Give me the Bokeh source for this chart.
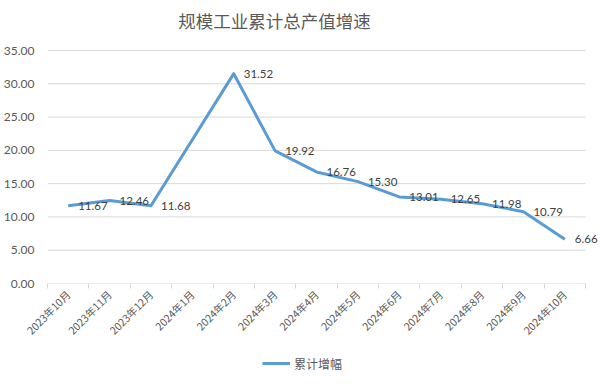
import math
from bokeh.plotting import figure
from bokeh.layouts import column
from bokeh.core.properties import value
from bokeh.models import (Range1d, FixedTicker, Legend, LegendItem, Label, LabelSet,
                          ColumnDataSource, NumeralTickFormatter)
from bokeh.embed import file_html
from bokeh.resources import INLINE

# ---- data ----
chart_title = "规模工业累计总产值增速"
months = ["2023年10月", "2023年11月", "2023年12月", "2024年1月", "2024年2月", "2024年3月",
          "2024年4月", "2024年5月", "2024年6月", "2024年7月", "2024年8月", "2024年9月", "2024年10月"]
growth = [11.67, 12.46, 11.68, None, 31.52, 19.92, 16.76, 15.30, 13.01, 12.65, 11.98, 10.79, 6.66]
series_name = "累计增幅"
y_ticks = [0, 5, 10, 15, 20, 25, 30, 35]

n = len(months)
idx = [i for i, v in enumerate(growth) if v is not None]
src = ColumnDataSource(dict(
    x=idx,
    y=[growth[i] for i in idx],
    lab=["%.2f" % growth[i] for i in idx],
))

LINE_COLOR = "#5b9bd5"

# ---- layout (pixels) ----
W, H = 600, 384
LEG_H = 39
CH = H - LEG_H                      # chart figure height
LEFT, RIGHT_EDGE = 45, 598          # frame spans these x pixels
CAT_RIGHT = 585                     # where the category area / gridlines end
TOP, BOTTOM = 2, 283                # frame top and y=0 line
Y_TOP_TICK_PX = 50                  # pixel y of top tick

x_unit = (CAT_RIGHT - LEFT) / n
x_end = -0.5 + (RIGHT_EDGE - LEFT) / x_unit
y_unit = (BOTTOM - Y_TOP_TICK_PX) / (y_ticks[-1] - y_ticks[0])
y_end = y_ticks[-1] + (Y_TOP_TICK_PX - TOP) / y_unit

p = figure(width=W, height=CH, output_backend="svg", toolbar_location=None,
           x_range=Range1d(-0.5, x_end), y_range=Range1d(y_ticks[0], y_end),
           min_border_left=LEFT, min_border_right=W - RIGHT_EDGE,
           min_border_top=TOP, min_border_bottom=CH - BOTTOM,
           background_fill_color="white", border_fill_color="white")
p.outline_line_color = None
p.xgrid.visible = False
p.ygrid.visible = False

# horizontal gridlines limited to the category area
p.segment(x0=[-0.5] * len(y_ticks), x1=[n - 0.5] * len(y_ticks), y0=y_ticks, y1=y_ticks,
          line_color="#d9d9d9", line_width=1)

# axes
xa = p.xaxis[0]
xa.ticker = FixedTicker(ticks=list(range(n)), minor_ticks=[i - 0.5 for i in range(n + 1)])
xa.major_label_overrides = {i: m for i, m in enumerate(months)}
xa.major_label_orientation = math.pi / 4
xa.major_tick_line_color = None
xa.minor_tick_in = 0
xa.minor_tick_out = 5
xa.minor_tick_line_color = "#d9d9d9"
xa.axis_line_color = None
xa.major_label_standoff = 3
xa.major_label_text_font = "Noto Sans CJK SC"
xa.major_label_text_font_size = "10.5px"
xa.major_label_text_color = "#595959"

ya = p.yaxis[0]
ya.ticker = FixedTicker(ticks=y_ticks)
ya.formatter = NumeralTickFormatter(format="0.00")
ya.axis_line_color = None
ya.major_tick_line_color = None
ya.minor_tick_line_color = None
ya.major_label_standoff = 7
ya.major_label_text_font = "Lato"
ya.major_label_text_font_size = "12px"
ya.major_label_text_color = "#595959"

r = p.line("x", "y", source=src, line_color=LINE_COLOR, line_width=3, line_join="round")

labels = LabelSet(x="x", y="y", text="lab", source=src, x_offset=10,
                  text_baseline="middle", text_font=value("Lato"), text_font_size=value("11.5px"),
                  text_color="#404040")
p.add_layout(labels)

frame_h = BOTTOM - TOP
title = Label(x=272 - LEFT, y=frame_h - 18, x_units="screen", y_units="screen", text=chart_title,
              text_align="center", text_baseline="middle", text_font="Noto Sans CJK SC",
              text_font_size="17.5px", text_color="#595959")
p.add_layout(title)

# ---- legend strip ----
lp = figure(width=W, height=LEG_H, output_backend="svg", toolbar_location=None,
            x_range=Range1d(0, 1), y_range=Range1d(0, 1), x_axis_type=None, y_axis_type=None,
            min_border=0, min_border_left=0, min_border_right=0, min_border_top=0,
            min_border_bottom=0, background_fill_color="white", border_fill_color="white")
lp.outline_line_color = None
lp.xgrid.visible = False
lp.ygrid.visible = False
# legend-only proxy renderer (kept outside the visible range)
lr = lp.line(x=[2, 3], y=[2, 2], line_color=LINE_COLOR, line_width=3)
legend = Legend(items=[LegendItem(label=series_name, renderers=[lr])], location=(215, 11),
                orientation="horizontal", border_line_color=None, background_fill_alpha=0,
                padding=0, margin=0, glyph_width=28, label_standoff=4,
                label_text_font="Noto Sans CJK SC", label_text_font_size="12px",
                label_text_color="#595959")
lp.add_layout(legend)

layout = column(p, lp, spacing=0)
open("out.html", "w").write(file_html(layout, INLINE))
